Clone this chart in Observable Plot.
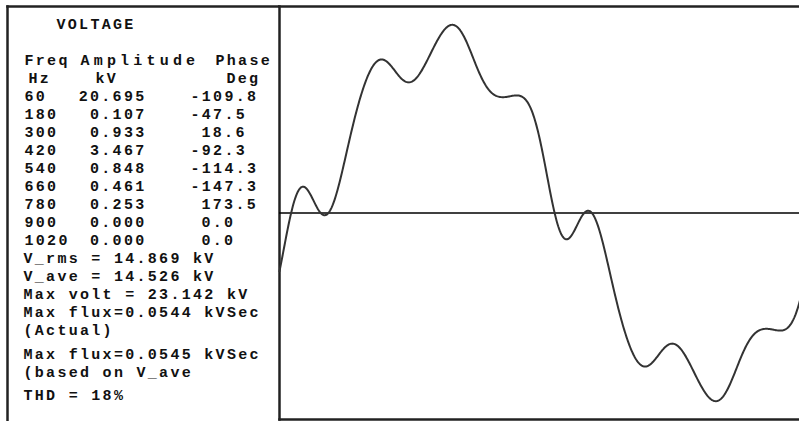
<!DOCTYPE html>
<html>
<head>
<meta charset="utf-8">
<script src="https://cdn.jsdelivr.net/npm/d3@7"></script>
<script src="https://cdn.jsdelivr.net/npm/@observablehq/plot@0.6"></script>
<style>
  html, body { margin: 0; padding: 0; background: #fff; overflow: hidden; }
  #chart { position: relative; width: 799px; height: 421px; overflow: hidden; }
  #chart svg { position: absolute; left: 0; top: 0; max-width: none !important; }
</style>
</head>
<body>
<div id="chart"></div>
<script>
// Harmonic content of the voltage
const freqHz = [60, 180, 300, 420, 540, 660, 780, 900, 1020];
const amplitudeKV = [20.695, 0.107, 0.933, 3.467, 0.848, 0.461, 0.253, 0.000, 0.000];
const phaseDeg = [-109.8, -47.5, 18.6, -92.3, -114.3, -147.3, 173.5, 0.0, 0.0];

// Panel texts
const titleText = "VOLTAGE";
const headerNames = ["Freq", "Amplitude", "Phase"];
const headerUnits = ["Hz", "kV", "Deg"];
const summaryLines = [
  "V_rms = 14.869 kV",
  "V_ave = 14.526 kV",
  "Max volt = 23.142 kV",
  "Max flux=0.0544 kVSec",
  "(Actual)",
  "Max flux=0.0545 kVSec",
  "(based on V_ave",
  "THD = 18%"
];

const fundamentalHz = 60;
const ink = "#222";
const font = {fontFamily: "Liberation Mono, monospace", fontWeight: "bold", fontSize: 15, fill: "#111"};

// One cycle of the fundamental, rebuilt from the harmonic table
const angles = d3.range(0, 360.001, 0.5);
const wave = angles.map(a => ({
  deg: a,
  kv: d3.sum(freqHz, (f, i) =>
    amplitudeKV[i] * Math.cos(((f / fundamentalHz) * a + phaseDeg[i]) * Math.PI / 180))
}));

const chart = document.getElementById("chart");

// Waveform panel; the cycle runs slightly past the right edge of the window
const wavePlot = Plot.plot({
  width: 806,
  height: 421,
  marginLeft: 279,
  marginRight: 0,
  marginTop: 6,
  marginBottom: 2,
  x: {domain: [0, 360], axis: null},
  y: {domain: [-25.4, 25.4], axis: null},
  marks: [
    Plot.frame({anchor: "top", stroke: ink, strokeWidth: 2.5}),
    Plot.frame({anchor: "left", stroke: ink, strokeWidth: 2.5}),
    Plot.frame({anchor: "bottom", stroke: ink, strokeWidth: 2.5}),
    Plot.ruleY([0], {stroke: "#000", strokeWidth: 1.5}),
    Plot.line(wave, {x: "deg", y: "kv", stroke: "#333", strokeWidth: 2, curve: "linear"})
  ]
});
chart.appendChild(wavePlot);

// Text table panel: column anchors in pixels, lines on a row scale
const col = {freq: 24, amp: 80, phase: 190};
const rowAt = {title: -4, names: -2, units: -1};
const summaryRow = [9, 10, 11, 12, 13, 14.3, 15.3, 16.6];

const one = (label, x, row, dx, extra = {}) =>
  Plot.text([label], {x: () => x, y: () => row, text: d => d, dx, textAnchor: "start", ...font, ...extra});

const textPlot = Plot.plot({
  width: 279,
  height: 421,
  marginLeft: 7,
  marginRight: 0,
  marginTop: 6,
  marginBottom: 0,
  style: "letter-spacing: 2.3px; background: transparent;",
  x: {type: "identity", axis: null},
  y: {domain: [-5, 18], range: [6, 420], axis: null},
  marks: [
    Plot.frame({anchor: "top", stroke: ink, strokeWidth: 2.5}),
    Plot.frame({anchor: "left", stroke: ink, strokeWidth: 2.5}),
    one(titleText, col.freq, rowAt.title, 32),
    one(headerNames[0], col.freq, rowAt.names, 0),
    one(headerNames[1], col.amp, rowAt.names, 0, {className: "wide"}),
    one(headerNames[2], col.phase, rowAt.names, 25),
    one(headerUnits[0], col.freq, rowAt.units, 4),
    one(headerUnits[1], col.amp, rowAt.units, 15),
    one(headerUnits[2], col.phase, rowAt.units, 36),
    Plot.text(freqHz, {x: () => col.freq, y: (d, i) => i, text: d => String(d), textAnchor: "start", ...font}),
    Plot.text(amplitudeKV, {x: () => col.amp, y: (d, i) => i, text: d => d.toFixed(3), textAnchor: "end", dx: 66, ...font}),
    Plot.text(phaseDeg, {filter: d => d < 0, x: () => col.phase, y: (d, i) => i, text: d => d.toFixed(1), textAnchor: "start", ...font}),
    Plot.text(phaseDeg, {filter: d => d >= 0, x: () => col.phase, y: (d, i) => i, text: d => d.toFixed(1), textAnchor: "start", dx: 11, ...font}),
    Plot.text(summaryLines, {x: () => col.freq, y: (d, i) => summaryRow[i], text: d => d, textAnchor: "start", dx: -1, ...font})
  ]
});
// The "Amplitude" heading is set a little looser than the rest
d3.select(textPlot).selectAll("g.wide text").style("letter-spacing", "4.2px");
chart.appendChild(textPlot);
</script>
</body>
</html>
